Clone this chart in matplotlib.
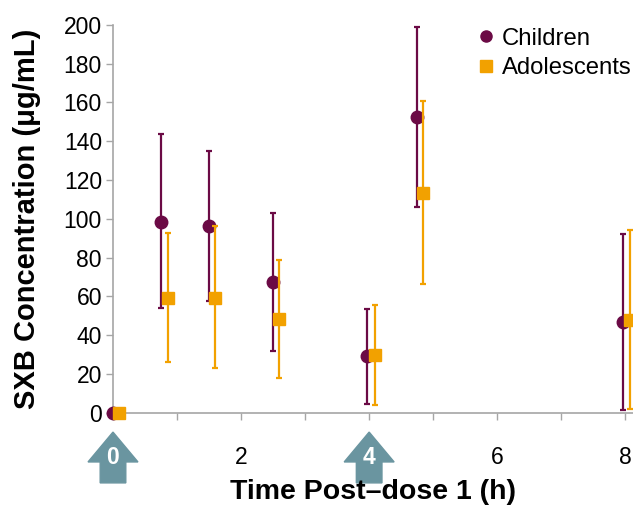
import matplotlib
matplotlib.use("Agg")
import matplotlib.pyplot as plt
from matplotlib.lines import Line2D
from matplotlib.patches import Polygon
from matplotlib.transforms import blended_transform_factory

plt.rcParams['font.family'] = ['Liberation Sans', 'DejaVu Sans']

# time points (h) as plotted, children slightly left / adolescents slightly right
children_t = [0, 0.75, 1.5, 2.5, 3.97, 4.74, 7.97]
children_mean = [0, 98.5, 96.2, 67.2, 29.2, 152.3, 46.8]
children_hi = [0, 143.5, 135, 102.8, 53.6, 198.7, 92]
children_lo = [0, 53.8, 57.6, 32, 4.5, 106, 1.4]

adol_t = [0.1, 0.855, 1.59, 2.59, 4.09, 4.84, 8.08]
adol_mean = [0, 59.3, 59.3, 48.3, 29.9, 113.4, 47.8]
adol_hi = [0, 92.5, 96.2, 78.7, 55.5, 160.8, 94.2]
adol_lo = [0, 26.3, 22.9, 18, 4, 66.3, 2]

dose_times = [0, 4]
xticks = [0, 1, 2, 3, 4, 5, 6, 7, 8]
xtick_labels = ['0', '', '2', '', '4', '', '6', '', '8']
yticks = [0, 20, 40, 60, 80, 100, 120, 140, 160, 180, 200]

purple = '#6B0A45'
orange = '#F2A100'
arrow_col = '#6A95A0'
grey = '#A6A6A6'

fig = plt.figure(figsize=(6.33, 5.07), dpi=100)
ax = fig.add_axes([0.1785, 0.186, 0.8215, 0.765])

c_err = [[m - l for m, l in zip(children_mean, children_lo)],
         [h - m for m, h in zip(children_mean, children_hi)]]
a_err = [[m - l for m, l in zip(adol_mean, adol_lo)],
         [h - m for m, h in zip(adol_mean, adol_hi)]]

ax.errorbar(children_t, children_mean, yerr=c_err, fmt='o', color=purple,
            ms=9, elinewidth=1.6, capsize=2.4, capthick=1.6, clip_on=False,
            zorder=3)
ax.errorbar(adol_t, adol_mean, yerr=a_err, fmt='s', color=orange,
            ms=8.5, elinewidth=1.6, capsize=2.4, capthick=1.6, clip_on=False,
            zorder=4)

ax.set_xlim(0, 8.12)
ax.set_ylim(0, 200)
ax.set_yticks(yticks)
ax.set_xticks(xticks)
ax.set_xticklabels(xtick_labels)

for s in ['top', 'right']:
    ax.spines[s].set_visible(False)
for s in ['left', 'bottom']:
    ax.spines[s].set_color(grey)
    ax.spines[s].set_linewidth(1.2)

ax.tick_params(axis='both', colors=grey, labelcolor='black', labelsize=16.5,
               width=1, length=5)
ax.tick_params(axis='x', pad=19)
ax.tick_params(axis='y', pad=3)

# dose arrows under the x axis
trans = blended_transform_factory(ax.transData, ax.transAxes)
for t in dose_times:
    hw, sw = 0.39, 0.2
    pts = [(t, -0.05), (t + hw, -0.127), (t + sw, -0.127), (t + sw, -0.181),
           (t - sw, -0.181), (t - sw, -0.127), (t - hw, -0.127)]
    ax.add_patch(Polygon(pts, closed=True, transform=trans, color=arrow_col,
                         clip_on=False, zorder=1))
for lab, val in zip(ax.get_xticklabels(), xticks):
    if val in dose_times:
        lab.set_color('white')
        lab.set_fontweight('bold')

ax.set_xlabel('Time Post\u2013dose 1 (h)', fontsize=20.5, fontweight='bold',
              labelpad=7)
ax.set_ylabel('SXB Concentration (\u03bcg/mL)', fontsize=21,
              fontweight='bold')
ax.yaxis.set_label_coords(-0.138, 0.5)

handles = [Line2D([], [], marker='o', ls='none', color=purple, ms=8),
           Line2D([], [], marker='s', ls='none', color=orange, ms=8)]
ax.legend(handles, ['Children', 'Adolescents'], loc='upper right',
          bbox_to_anchor=(1.025, 1.03), frameon=False, fontsize=17.2,
          handlelength=0.6, handletextpad=0.35, labelspacing=0.33,
          borderaxespad=0.2)

fig.savefig('out.png', dpi=100)
